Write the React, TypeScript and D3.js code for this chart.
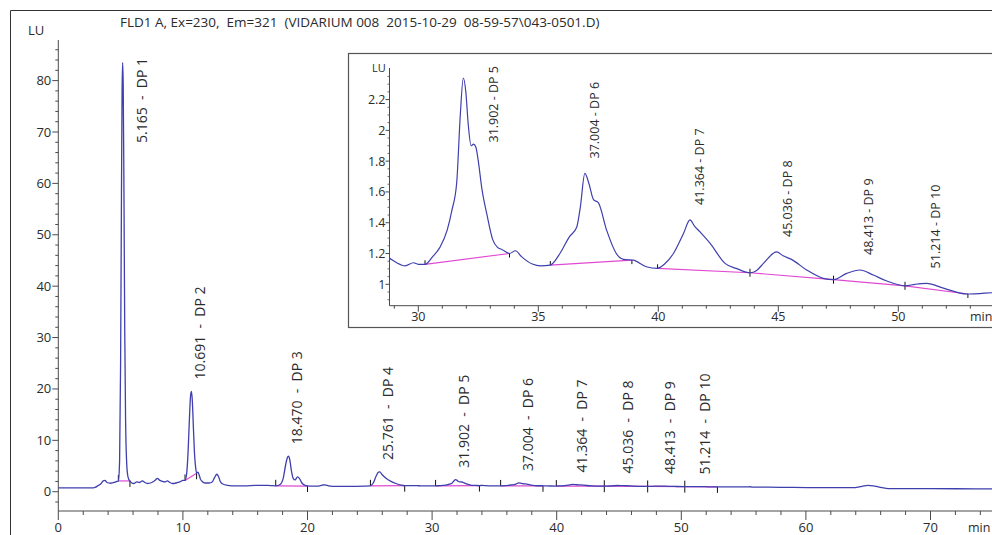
import * as d3 from "d3";

// chromatogram trace: [retention time (min), signal (LU)]
const trace: [number, number][] = [
  [0, 0.75], [1, 0.75], [2, 0.75], [2.8, 0.75], [3.0, 0.9], [3.2, 1.2], [3.4, 1.5], [3.6, 2.1], [3.75, 2.2],
  [3.9, 1.8], [4.2, 1.65], [4.5, 1.8], [4.7, 2.0], [4.82, 2.1], [4.92, 6], [5.0, 25], [5.07, 58], [5.12, 78],
  [5.165, 83.5], [5.21, 79], [5.27, 58], [5.33, 32], [5.4, 14], [5.48, 6], [5.57, 3.2], [5.66, 2.4], [5.75, 2.1],
  [5.9, 1.7], [6.05, 1.6], [6.3, 1.9], [6.5, 1.8], [6.75, 2.1], [6.95, 1.8], [7.15, 1.6], [7.5, 1.8], [7.8, 2.3],
  [7.95, 2.6], [8.15, 2.2], [8.35, 2.0], [8.55, 1.9], [8.75, 2.1], [8.95, 1.8], [9.15, 1.6], [9.45, 1.7],
  [9.75, 1.9], [10.0, 2.2], [10.17, 2.2], [10.3, 3.5], [10.42, 8], [10.52, 14], [10.62, 18.8], [10.691, 19.5],
  [10.76, 17.5], [10.85, 12], [10.93, 7.5], [11.02, 4.8], [11.1, 3.6], [11.2, 3.8], [11.3, 3.3], [11.4, 2.5],
  [11.6, 1.9], [11.8, 1.7], [12.1, 1.7], [12.35, 1.9], [12.55, 2.8], [12.72, 3.4], [12.85, 3.0], [13.0, 2.0],
  [13.2, 1.5], [13.6, 1.25], [14.2, 1.15], [15.0, 1.15], [15.8, 1.25], [16.5, 1.25], [17.0, 1.2], [17.45, 1.15],
  [17.8, 1.4], [18.05, 2.6], [18.25, 5.3], [18.38, 6.6], [18.47, 6.9], [18.58, 6.2], [18.7, 4.2], [18.85, 2.6],
  [19.0, 2.3], [19.2, 2.9], [19.35, 2.6], [19.55, 1.7], [19.8, 1.25], [20.2, 1.1], [20.8, 1.1], [21.2, 1.3],
  [21.4, 1.35], [21.7, 1.15], [22.3, 1.05], [23.5, 1.05], [24.5, 1.1], [25.05, 1.15], [25.3, 1.8], [25.5, 3.0],
  [25.7, 3.8], [25.8, 3.85], [26.0, 3.3], [26.3, 2.6], [26.7, 2.0], [27.1, 1.6], [27.5, 1.3], [27.8, 1.18],
  [28.2, 1.2], [28.5, 1.2], [28.8, 1.17], [29.1, 1.14], [29.45, 1.12], [29.8, 1.14], [30.0, 1.13], [30.28, 1.13],
  [30.6, 1.18], [30.9, 1.24], [31.2, 1.35], [31.4, 1.48], [31.6, 1.66], [31.75, 2.1], [31.875, 2.34],
  [31.98, 2.25], [32.08, 2.04], [32.2, 1.9], [32.3, 1.91], [32.4, 1.89], [32.5, 1.8], [32.65, 1.62],
  [32.85, 1.46], [33.1, 1.29], [33.3, 1.24], [33.5, 1.225], [33.8, 1.2], [34.05, 1.218], [34.3, 1.18],
  [34.75, 1.132], [35.1, 1.12], [35.5, 1.125], [35.9, 1.2], [36.3, 1.31], [36.6, 1.37], [36.75, 1.5],
  [36.94, 1.72], [37.1, 1.66], [37.3, 1.55], [37.5, 1.53], [37.85, 1.35], [38.25, 1.2], [38.55, 1.162],
  [38.95, 1.157], [39.5, 1.114], [39.97, 1.104], [40.25, 1.13], [40.63, 1.2], [41.05, 1.33], [41.32, 1.418],
  [41.5, 1.38], [41.74, 1.34], [42.16, 1.266], [42.78, 1.136], [43.3, 1.1], [43.82, 1.075], [44.1, 1.09],
  [44.38, 1.136], [44.93, 1.21], [45.2, 1.185], [45.55, 1.162], [46.18, 1.093], [46.87, 1.039], [47.3, 1.03],
  [47.85, 1.071], [48.4, 1.093], [48.96, 1.06], [49.5, 1.023], [50.28, 0.99], [50.7, 1.0], [51.18, 1.006],
  [51.88, 0.975], [52.85, 0.937], [53.4, 0.94], [53.9, 0.945], [54.5, 0.93], [55.3, 0.93], [55.5, 0.97],
  [55.7, 0.9], [57, 0.88], [59, 0.84], [61, 0.8], [63, 0.78], [63.8, 0.8], [64.3, 0.95], [65.0, 1.25],
  [65.5, 1.1], [66.1, 0.8], [66.6, 0.62], [68, 0.6], [72, 0.58], [75, 0.55],
];

// integrated peaks
const peakTimes = [5.165, 10.691, 18.47, 25.761, 31.902, 37.004, 41.364, 45.036, 48.413, 51.214];
const peakNames = ["DP 1", "DP 2", "DP 3", "DP 4", "DP 5", "DP 6", "DP 7", "DP 8", "DP 9", "DP 10"];

// drawn baselines of each peak (start/end time and LU)
const baseT0 = [4.82, 10.17, 17.45, 25.05, 30.28, 35.5, 39.97, 43.82, 47.3, 50.28];
const baseV0 = [2.1, 2.2, 1.15, 1.15, 1.13, 1.125, 1.104, 1.075, 1.03, 0.99];
const baseT1 = [5.75, 11.1, 20.0, 27.8, 33.8, 38.9, 43.82, 47.3, 50.28, 52.9];
const baseV1 = [2.1, 3.6, 1.1, 1.18, 1.2, 1.157, 1.075, 1.03, 0.99, 0.937];

// axes
const xMajor = [0, 10, 20, 30, 40, 50, 60, 70];
const yMajor = [0, 10, 20, 30, 40, 50, 60, 70, 80];
const insetXMajor = [30, 35, 40, 45, 50];
const insetYMajor = [1, 1.2, 1.4, 1.6, 1.8, 2, 2.2];
const insetYLabels = ["1", "1.2", "1.4", "1.6", "1.8", "2", "2.2"];

const title = "FLD1 A, Ex=230,  Em=321  (VIDARIUM 008  2015-10-29  08-59-57\\043-0501.D)";

const FONT = "'Segoe UI', 'Open Sans', sans-serif";
const TXT = "#2b2b2b";
const AX = "#4a4a4a";
const TRACE = "#3f3fae";
const BASE = "#e04ad2";

const bis = d3.bisector((d: [number, number]) => d[0]).left;
function valueAt(t: number) {
  const i = bis(trace, t);
  if (i <= 0) return trace[0][1];
  if (i >= trace.length) return trace[trace.length - 1][1];
  const a = trace[i - 1], b = trace[i];
  return a[1] + (b[1] - a[1]) * (t - a[0]) / (b[0] - a[0]);
}

let ctx: CanvasRenderingContext2D | null = null;
function textWidth(s: string, size: number) {
  if (!ctx) ctx = document.createElement("canvas").getContext("2d");
  if (!ctx) return s.length * size * 0.55;
  ctx.font = `${size}px ${FONT}`;
  return ctx.measureText(s).width;
}

type Lab = { cx: number; start: number; text: string };

function placeLabels(sx: d3.ScaleLinear<number, number>, sy: d3.ScaleLinear<number, number>,
  idx: number[], size: number, gap: number, topLimit: number, sep: string): Lab[] {
  return idx.map((i) => {
    const rt = peakTimes[i];
    const peakV = d3.max(trace.filter((d) => Math.abs(d[0] - rt) < 0.25), (d) => d[1]) ?? valueAt(rt);
    const text = `${rt.toFixed(3)}${sep}-${sep}${peakNames[i]}`;
    const len = textWidth(text, size);
    let start = sy(peakV) - gap;
    if (start - len < topLimit) start = topLimit + len;
    let cx = sx(rt) + 8;
    // push the label right until it clears the trace
    const hits = (c: number) => {
      for (let px = c - 18; px <= c + 6; px++) {
        if (sy(valueAt(sx.invert(px))) < start + 4) return true;
      }
      return false;
    };
    let n = 0;
    while (hits(cx) && n < 200) { cx += 1; n++; }
    return { cx, start, text };
  });
}

export default function App() {
  const x = d3.scaleLinear().domain([0, 75]).range([58.3, 992.8]);
  const y = d3.scaleLinear().domain([-3.75, 87.9]).range([511, 40]);
  const ix = d3.scaleLinear().domain([28.8, 54.2]).range([389.5, 999.1]);
  const iy = d3.scaleLinear().domain([0.861, 2.405]).range([305.7, 68]);

  const line = d3.line<[number, number]>().x((d) => x(d[0])).y((d) => y(d[1])).curve(d3.curveMonotoneX);
  const iline = d3.line<[number, number]>().x((d) => ix(d[0])).y((d) => iy(d[1])).curve(d3.curveMonotoneX);

  const [x0, x1] = x.range();
  const [yb, yt] = y.range();
  const [ix0] = ix.range();
  const [iyb, iyt] = iy.range();
  const iRight = 992;

  const mainLabels = placeLabels(x, y, d3.range(peakTimes.length), 14, 12, yt + 18, "  ");
  const insetIdx = d3.range(peakTimes.length).filter((i) => peakTimes[i] > ix.domain()[0] && peakTimes[i] < ix.domain()[1]);
  const insetLabels = placeLabels(ix, iy, insetIdx, 12.5, 15, iyt - 2, " ");

  const insetTrace = trace.filter((d) => d[0] >= 28 && d[0] <= 55);

  const baselines = (sx: typeof x, sy: typeof y, tick: number, only?: number[]) =>
    baseT0.map((t0, i) => {
      if (only && !only.includes(i)) return null;
      const p0: [number, number] = [sx(t0), sy(baseV0[i])];
      const p1: [number, number] = [sx(baseT1[i]), sy(baseV1[i])];
      return (
        <g key={i}>
          <line x1={p0[0]} y1={p0[1]} x2={p1[0]} y2={p1[1]} stroke={BASE} strokeWidth={1.2} />
          <line x1={p0[0]} y1={p0[1] - tick} x2={p0[0]} y2={p0[1]} stroke="#111" strokeWidth={1} />
          <line x1={p1[0]} y1={p1[1]} x2={p1[0]} y2={p1[1] + tick} stroke="#111" strokeWidth={1} />
        </g>
      );
    });

  const xMinor = d3.range(0, 75, 2).filter((v) => !xMajor.includes(v));
  const yMinor = d3.range(-2, 88, 2).filter((v) => !yMajor.includes(v));
  const ixMinor = d3.range(29, 54, 1).filter((v) => !insetXMajor.includes(v));
  const iyMinor = d3.range(0.9, 2.4, 0.05).filter((v) => !insetYMajor.some((m) => Math.abs(m - v) < 1e-6));

  return (
    <svg width={992} height={535} style={{ position: "absolute", left: 0, top: 0, background: "#fff" }}
      fontFamily={FONT}>
      <rect x={0} y={0} width={992} height={535} fill="#fff" />
      {/* outer frame */}
      <line x1={10.5} y1={10.5} x2={992} y2={10.5} stroke="#333" />
      <line x1={10.5} y1={10.5} x2={10.5} y2={535} stroke="#333" />

      <text x={120} y={27} fontSize={13.5} fill={TXT} style={{ whiteSpace: "pre" }}>{title}</text>
      <text x={28} y={35} fontSize={13} fill={TXT}>LU</text>

      {/* main y axis */}
      <line x1={x0} y1={yt} x2={x0} y2={yb} stroke={AX} />
      {yMinor.map((v) => (
        <line key={`ym${v}`} x1={x0 - 3} x2={x0} y1={y(v)} y2={y(v)} stroke={AX} />
      ))}
      {yMajor.map((v) => (
        <g key={`y${v}`}>
          <line x1={x0 - 6} x2={x0} y1={y(v)} y2={y(v)} stroke={AX} />
          <text x={x0 - 7} y={y(v)} dy="0.35em" textAnchor="end" fontSize={13} fill={TXT}>{v}</text>
        </g>
      ))}

      {/* main x axis */}
      <line x1={x0} y1={yb} x2={x1} y2={yb} stroke={AX} />
      {xMinor.map((v) => (
        <line key={`xm${v}`} x1={x(v)} x2={x(v)} y1={yb} y2={yb + 4} stroke={AX} />
      ))}
      {xMajor.map((v) => (
        <g key={`x${v}`}>
          <line x1={x(v)} x2={x(v)} y1={yb} y2={yb + 9} stroke={AX} />
          <text x={x(v)} y={532} textAnchor="middle" fontSize={13} fill={TXT}>{v}</text>
        </g>
      ))}
      <text x={968} y={532} fontSize={12.5} fill={TXT}>min</text>

      {/* main trace */}
      {baselines(x, y, 6)}
      <path d={line(trace) ?? ""} fill="none" stroke={TRACE} strokeWidth={1.3} strokeLinejoin="round" />
      {mainLabels.map((l, i) => (
        <text key={`ml${i}`} transform={`translate(${l.cx},${l.start}) rotate(-90)`} dominantBaseline="central"
          fontSize={14} fill={TXT} style={{ whiteSpace: "pre" }}>{l.text}</text>
      ))}

      {/* inset */}
      <rect x={348.5} y={53.5} width={700} height={274} fill="#fff" stroke="#555" strokeWidth={1.2} />
      <clipPath id="insetClip">
        <rect x={ix0} y={iyt - 10} width={iRight - ix0} height={iyb - iyt + 10} />
      </clipPath>
      <text x={372} y={72} fontSize={11} fill={TXT}>LU</text>
      <line x1={ix0} y1={iyt} x2={ix0} y2={iyb} stroke={AX} />
      {iyMinor.map((v) => (
        <line key={`iym${v}`} x1={ix0 - 2} x2={ix0} y1={iy(v)} y2={iy(v)} stroke={AX} strokeWidth={0.8} />
      ))}
      {insetYMajor.map((v, i) => (
        <g key={`iy${v}`}>
          <line x1={ix0 - 4} x2={ix0} y1={iy(v)} y2={iy(v)} stroke={AX} />
          <text x={ix0 - 4} y={iy(v)} dy="0.35em" textAnchor="end" fontSize={12.5} fill={TXT}>{insetYLabels[i]}</text>
        </g>
      ))}
      <line x1={ix0} y1={iyb} x2={iRight} y2={iyb} stroke={AX} />
      {ixMinor.map((v) => (
        <line key={`ixm${v}`} x1={ix(v)} x2={ix(v)} y1={iyb} y2={iyb + 3} stroke={AX} />
      ))}
      {insetXMajor.map((v) => (
        <g key={`ix${v}`}>
          <line x1={ix(v)} x2={ix(v)} y1={iyb} y2={iyb + 6} stroke={AX} />
          <text x={ix(v)} y={321} textAnchor="middle" fontSize={12.5} fill={TXT}>{v}</text>
        </g>
      ))}
      <text x={970} y={321} fontSize={12.5} fill={TXT}>min</text>
      <g clipPath="url(#insetClip)">
        {baselines(ix, iy, 4, insetIdx)}
        <path d={iline(insetTrace) ?? ""} fill="none" stroke={TRACE} strokeWidth={1.2} strokeLinejoin="round" />
      </g>
      {insetLabels.map((l, i) => (
        <text key={`il${i}`} transform={`translate(${l.cx},${l.start}) rotate(-90)`} dominantBaseline="central"
          fontSize={12.5} fill={TXT} style={{ whiteSpace: "pre" }}>{l.text}</text>
      ))}
    </svg>
  );
}
